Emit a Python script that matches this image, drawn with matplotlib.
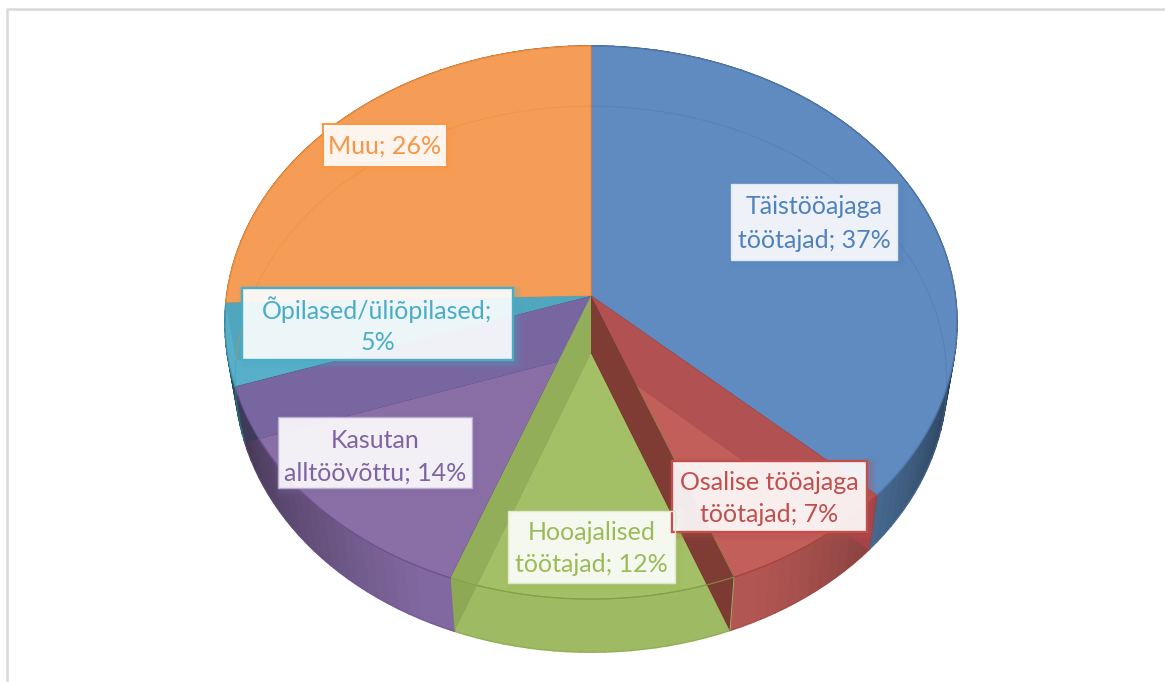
import numpy as np
import matplotlib
matplotlib.use("Agg")
import matplotlib.pyplot as plt
from matplotlib.patches import Polygon, Rectangle

# slices, clockwise from twelve o'clock
names = ["Täistööajaga\ntöötajad; 37%", "Osalise tööajaga\ntöötajad; 7%", "Hooajalised\ntöötajad; 12%",
         "Kasutan\nalltöövõttu; 14%", "Õpilased/üliõpilased;\n5%", "Muu; 26%"]
values = [36.9, 7.3, 11.5, 14.1, 4.8, 25.4]

top_colors = ["#5f8bc0", "#c25f5a", "#a3c066", "#8a6ea6", "#58afc9", "#f59d56"]
wall_colors = ["#5c88bb", "#b25653", "#9eba62", "#8268a0", "#4fa6bd", "#e88e45"]
line_colors = ["#4f78aa", "#a5433f", "#83a044", "#6c5290", "#3d97ae", "#ee8a38"]
text_colors = ["#4f81bd", "#c0504d", "#9bbb59", "#8064a2", "#4bacc6", "#f79646"]

# inner cut faces seen through the slices: edge index, colour over the top, colour over the wall
cut_faces = [(1, "#b15152", "#a3434a"), (5, "#4fa6bd", "#4fa6bd"), (4, "#77669f", "#3f3a5c"),
             (3, "#93ae59", "#8da955"), (2, "#7f3c35", "#7c3a33")]

# label boxes: x0, y0, x1, y1, border colour, border width, line centres
boxes = [
    (731, 184, 897, 260, "#dfe7f2", 1.0, (206, 240)),
    (672, 461, 867, 532, "#c0504d", 1.7, (482, 514)),
    (508, 511, 675, 583, "#dfe8cd", 1.0, (533, 565)),
    (278, 417, 472, 488, "#b9abcf", 1.0, (440, 473)),
    (242, 288, 513, 360, "#4bacc6", 1.7, (310, 342)),
    (323, 124, 447, 167, "#f79646", 1.4, (146,)),
]

CX, TOP_Y, BOT_Y = 591, 296, 353
A, B, K = 364.3, 274, -0.0959


def project(theta):
    x = np.sin(theta)
    y = -np.cos(theta)
    d = 1 + K * y
    return A * x / d, B * y / d


def top_pts(theta):
    px, py = project(theta)
    return CX + px, TOP_Y + py


def bot_pts(theta):
    px, py = project(theta)
    return CX + 0.972 * px, BOT_Y + 0.987 * py


def shade(color, theta):
    off = abs(np.degrees(theta) - 180)
    f = 1 - 0.52 * np.clip((off - 25) / 50, 0, 1)
    return tuple(c * f for c in matplotlib.colors.to_rgb(color))


plt.rcParams["font.family"] = ["Lato", "DejaVu Sans"]
fig = plt.figure(figsize=(11.65, 6.82), dpi=100)
ax = fig.add_axes([0, 0, 1, 1])
ax.set_xlim(0, 1165)
ax.set_ylim(682, 0)
ax.axis("off")

# chart frame
ax.plot([7, 7, 1165], [682, 9, 9], color="#d9d9d9", lw=1.8, zorder=1)

edges = np.radians(np.concatenate([[0], np.cumsum(values) / np.sum(values) * 360]))

# outer walls
for i in range(len(values)):
    ts = np.linspace(edges[i], edges[i + 1], int((edges[i + 1] - edges[i]) * 30) + 2)
    for t0, t1 in zip(ts[:-1], ts[1:]):
        tx, ty = top_pts(np.array([t0, t1]))
        bx, by = bot_pts(np.array([t1, t0]))
        col = shade(wall_colors[i], (t0 + t1) / 2)
        ax.fill(np.r_[tx, bx], np.r_[ty, by], facecolor=col, edgecolor=col, lw=1.2, zorder=2)

# top faces
for i in range(len(values)):
    ts = np.linspace(edges[i], edges[i + 1], 120)
    tx, ty = top_pts(ts)
    ax.fill(np.r_[CX, tx], np.r_[TOP_Y, ty], facecolor=top_colors[i], edgecolor=line_colors[i], lw=0.8, zorder=3)

# cut faces between slices, darker where they fall on the outer wall
ring_x, ring_y = top_pts(np.linspace(0, 2 * np.pi, 360))
top_shape = Polygon(np.c_[ring_x, ring_y], transform=ax.transData)
for idx, col, wall_col in cut_faces:
    t = edges[idx]
    tx, ty = top_pts(t)
    bx, by = bot_pts(t)
    ax.fill([CX, CX, bx, tx], [TOP_Y, BOT_Y, by, ty], facecolor=wall_col, edgecolor="none", zorder=4)
    face = ax.fill([CX, CX, bx, tx], [TOP_Y, BOT_Y, by, ty], facecolor=col, edgecolor="none", zorder=4)[0]
    face.set_clip_path(top_shape)

# base rim and top rim showing through
for i in range(len(values)):
    ts = np.linspace(edges[i], edges[i + 1], 120)
    bx, by = bot_pts(ts)
    ax.plot(bx, by, color=line_colors[i], lw=0.8, alpha=0.45, zorder=5)
    tx, ty = top_pts(ts)
    ax.plot(tx, ty, color=line_colors[i], lw=0.8, alpha=0.8, zorder=5)

# labels
for i, (x0, y0, x1, y1, border, bw, ys) in enumerate(boxes):
    for grow, a in zip((6, 4, 2), (0.07, 0.09, 0.12)):
        ax.add_patch(Rectangle((x0 + 3 - grow, y0 + 3 - grow), x1 - x0 + 2 * grow, y1 - y0 + 2 * grow,
                               facecolor=text_colors[i], edgecolor="none", alpha=a, zorder=6))
    ax.add_patch(Rectangle((x0, y0), x1 - x0, y1 - y0, facecolor="white", edgecolor="none", alpha=0.9, zorder=7))
    ax.add_patch(Rectangle((x0, y0), x1 - x0, y1 - y0, facecolor="none", edgecolor=border, lw=bw, zorder=8))
    for line, y in zip(names[i].split("\n"), ys):
        ax.text((x0 + x1) / 2, y, line, color=text_colors[i], fontsize=18, ha="center", va="center", zorder=9)

fig.savefig("out.png", dpi=100)
